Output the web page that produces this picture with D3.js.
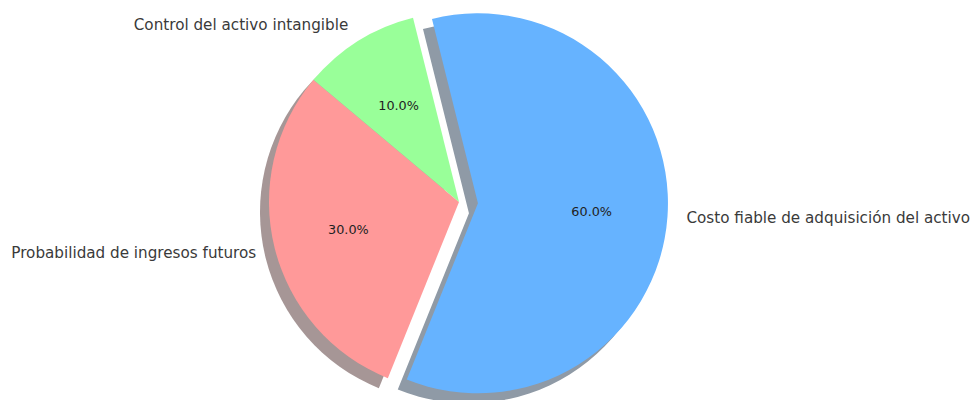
<!DOCTYPE html>
<html>
<head>
<meta charset="utf-8">
<script src="https://cdn.jsdelivr.net/npm/d3@7"></script>
<style>
  body { margin: 0; background: #fff; }
  svg text { font-family: "DejaVu Sans", sans-serif; }
</style>
</head>
<body>
<div id="chart"></div>
<script>
// data
const categories = [
  "Probabilidad de ingresos futuros",
  "Costo fiable de adquisición del activo",
  "Control del activo intangible"
];
const values = [30, 60, 10];
const colors = ["#ff9999", "#66b3ff", "#99ff99"];
const explodedCategory = "Costo fiable de adquisición del activo";

//set needed variables
const width = 973,
  height = 400,
  cx = 459,
  cy = 202,
  radius = 190,
  startAngle = 140, // degrees, counterclockwise from 3 o'clock
  shadowOffset = { x: -9, y: 10 };

const svg = d3
  .select("#chart")
  .append("svg")
  .attr("width", width)
  .attr("height", height);

const g = svg.append("g").attr("transform", `translate(${cx},${cy})`);

const toRad = d => (d * Math.PI) / 180;
const a0 = toRad(90 - startAngle);

// counterclockwise pie like matplotlib
const pie = d3
  .pie()
  .sort(null)
  .value(d => d.value)
  .startAngle(a0)
  .endAngle(a0 - 2 * Math.PI);

const data = categories.map((c, i) => ({ name: c, value: values[i], color: colors[i] }));
const arcs = pie(data);
const total = d3.sum(values);

const arc = d3.arc().innerRadius(0).outerRadius(radius);
const ring = r => d3.arc().innerRadius(r).outerRadius(r);
const labelArc = ring(radius * 1.1),
  pctArc = ring(radius * 0.6),
  explodeArc = ring(radius * 0.1);

const offset = d => (d.data.name === explodedCategory ? explodeArc.centroid(d) : [0, 0]);

// shade like matplotlib's Shadow patch
const shade = c => {
  const rgb = d3.rgb(c);
  return d3.rgb(255 - (255 - rgb.r * 0.3) * 0.5, 255 - (255 - rgb.g * 0.3) * 0.5, 255 - (255 - rgb.b * 0.3) * 0.5);
};

// shadows behind every wedge
g.selectAll(".shadow")
  .data(arcs)
  .enter()
  .append("path")
  .attr("class", "shadow")
  .attr("transform", d => {
    const o = offset(d);
    return `translate(${o[0] + shadowOffset.x},${o[1] + shadowOffset.y})`;
  })
  .attr("d", arc)
  .style("fill", d => shade(d.data.color));

const slice = g
  .selectAll(".slice")
  .data(arcs)
  .enter()
  .append("g")
  .attr("class", "slice")
  .attr("transform", d => `translate(${offset(d)})`);

slice
  .append("path")
  .attr("d", arc)
  .style("fill", d => d.data.color);

//category labels
slice
  .append("text")
  .attr("x", d => labelArc.centroid(d)[0])
  .attr("y", d => labelArc.centroid(d)[1])
  .attr("text-anchor", d => (labelArc.centroid(d)[0] < 0 ? "end" : "start"))
  .attr("dominant-baseline", "central")
  .style("font-size", "15.2px")
  .style("fill", "#3a3a3a")
  .text(d => d.data.name);

//percent labels
slice
  .append("text")
  .attr("x", d => pctArc.centroid(d)[0])
  .attr("y", d => pctArc.centroid(d)[1])
  .attr("text-anchor", "middle")
  .attr("dominant-baseline", "central")
  .style("font-size", "12.8px")
  .style("fill", "#222")
  .text(d => ((d.data.value / total) * 100).toFixed(1) + "%");
</script>
</body>
</html>
